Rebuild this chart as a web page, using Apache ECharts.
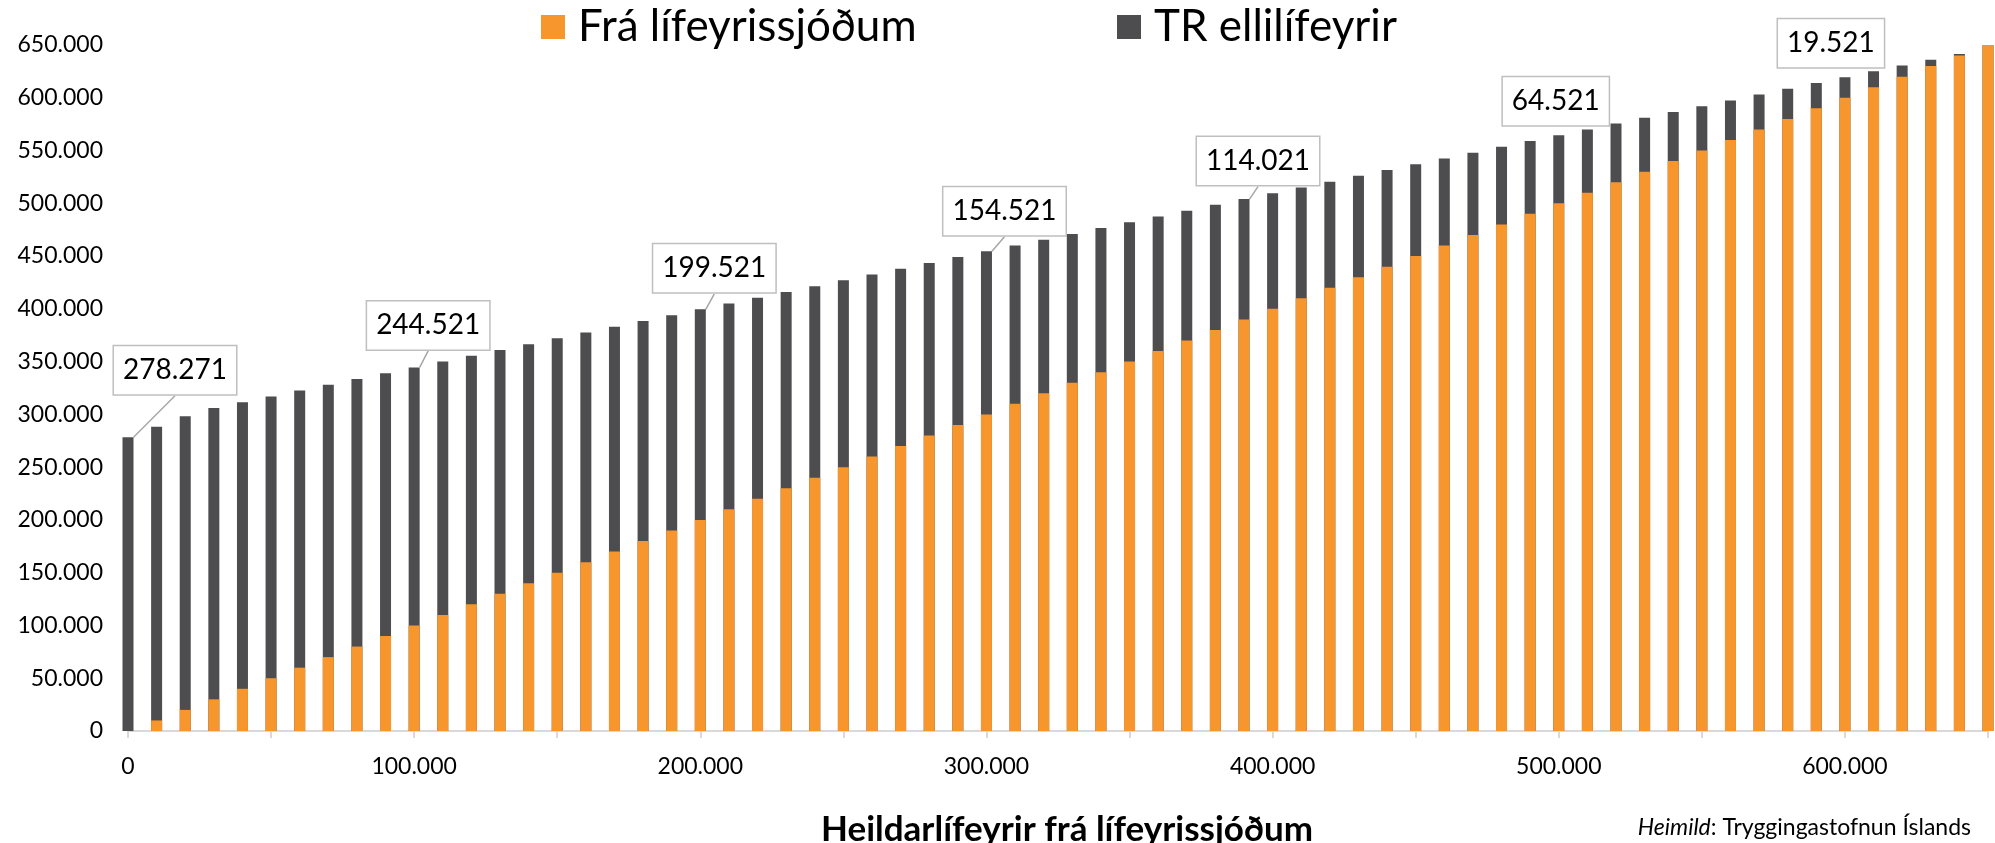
<!DOCTYPE html>
<html>
<head>
<meta charset="utf-8">
<script src="https://cdn.jsdelivr.net/npm/echarts@6/dist/echarts.min.js"></script>
<style>
    html, body { margin: 0; padding: 0; background: #fff; }
    #chartDiv { width: 1995px; height: 843px; }
</style>
</head>
<body>
<div id="chartDiv"></div>
<script>
// Heildarlífeyrir frá lífeyrissjóðum (x-ás)
var heildarLifeyrir = [
    0, 10000, 20000, 30000, 40000, 50000, 60000, 70000, 80000, 90000,
    100000, 110000, 120000, 130000, 140000, 150000, 160000, 170000, 180000, 190000,
    200000, 210000, 220000, 230000, 240000, 250000, 260000, 270000, 280000, 290000,
    300000, 310000, 320000, 330000, 340000, 350000, 360000, 370000, 380000, 390000,
    400000, 410000, 420000, 430000, 440000, 450000, 460000, 470000, 480000, 490000,
    500000, 510000, 520000, 530000, 540000, 550000, 560000, 570000, 580000, 590000,
    600000, 610000, 620000, 630000, 640000, 650000
];
// Frá lífeyrissjóðum
var fraLifeyrissjodum = [
    0, 10000, 20000, 30000, 40000, 50000, 60000, 70000, 80000, 90000,
    100000, 110000, 120000, 130000, 140000, 150000, 160000, 170000, 180000, 190000,
    200000, 210000, 220000, 230000, 240000, 250000, 260000, 270000, 280000, 290000,
    300000, 310000, 320000, 330000, 340000, 350000, 360000, 370000, 380000, 390000,
    400000, 410000, 420000, 430000, 440000, 450000, 460000, 470000, 480000, 490000,
    500000, 510000, 520000, 530000, 540000, 550000, 560000, 570000, 580000, 590000,
    600000, 610000, 620000, 630000, 640000, 650000
];
// TR ellilífeyrir
var trEllilifeyrir = [
    278271, 278271, 278271, 276021, 271521, 267021, 262521, 258021, 253521, 249021,
    244521, 240021, 235521, 231021, 226521, 222021, 217521, 213021, 208521, 204021,
    199521, 195021, 190521, 186021, 181521, 177021, 172521, 168021, 163521, 159021,
    154521, 150021, 145521, 141021, 136521, 132021, 127521, 123021, 118521, 114021,
    109521, 105021, 100521, 96021, 91521, 87021, 82521, 78021, 73521, 69021,
    64521, 60021, 55521, 51021, 46521, 42021, 37521, 33021, 28521, 24021,
    19521, 15021, 10521, 6021, 1521, 0
];
// hvaða súlur fá gildismerki
var merktSulur = [0, 10, 20, 30, 39, 50, 60];
// merki sem sitja svo nálægt súlunni að engin leiðarlína sést
var anLinu = [50, 60];

// færsla merkja frá toppi súlu [dx, dy]
var labelShift = {
    0: [47, -43],
    10: [14, -18],
    20: [14, -17],
    30: [18, -16],
    39: [14, -14],
    50: [-3, -10],
    60: [-14, -10]
};

var FONT = 'Lato';

function fmt(v) {
    return String(v).replace(/\B(?=(\d{3})+(?!\d))/g, '.');
}

// stafla handvirkt: dökka súlan nær upp í samtölu, appelsínugula liggur ofan á
var orangeData = [];
var trData = [];
for (var i = 0; i < heildarLifeyrir.length; i++) {
    var samtals = fraLifeyrissjodum[i] + trEllilifeyrir[i];
    orangeData.push([heildarLifeyrir[i], fraLifeyrissjodum[i]]);
    if (merktSulur.indexOf(i) >= 0) {
        trData.push({
            value: [heildarLifeyrir[i], samtals, trEllilifeyrir[i]],
            label: { show: true },
            labelLine: { show: anLinu.indexOf(i) < 0 }
        });
    } else {
        trData.push([heildarLifeyrir[i], samtals, trEllilifeyrir[i]]);
    }
}

var option = {
    animation: false,
    backgroundColor: '#fff',
    textStyle: { fontFamily: FONT },
    legend: [
        {
            data: ['Frá lífeyrissjóðum'],
            left: 536, top: 0,
            icon: 'rect', itemWidth: 24, itemHeight: 24,
            textStyle: { fontFamily: FONT, fontSize: 44, color: '#000', padding: [0, 0, 0, 8] }
        },
        {
            data: ['TR ellilífeyrir'],
            left: 1112, top: 0,
            icon: 'rect', itemWidth: 24, itemHeight: 24,
            textStyle: { fontFamily: FONT, fontSize: 44, color: '#000', padding: [0, 0, 0, 8] }
        }
    ],
    grid: {
        left: 128,
        right: 7,
        top: 45,
        bottom: 112,
        outerBoundsMode: 'none'
    },
    xAxis: {
        type: 'value',
        min: 0,
        max: 650000,
        interval: 50000,
        name: 'Heildarlífeyrir frá lífeyrissjóðum',
        nameLocation: 'middle',
        nameGap: 81,
        nameTextStyle: { fontFamily: FONT, fontSize: 35, fontWeight: 'bold', color: '#000', padding: [0, 0, 0, 18] },
        splitLine: { show: false },
        axisLine: { lineStyle: { color: '#d9d9d9', width: 2 } },
        axisTick: { length: 7, lineStyle: { color: '#d9d9d9', width: 2 } },
        axisLabel: {
            margin: 24,
            fontFamily: FONT,
            fontSize: 23,
            color: '#000',
            formatter: function (v) {
                return v % 100000 === 0 ? fmt(v) : '';
            }
        }
    },
    yAxis: {
        type: 'value',
        min: 0,
        max: 650000,
        interval: 50000,
        splitLine: { show: false },
        axisLine: { show: false },
        axisTick: { show: false },
        axisLabel: {
            margin: 25,
            fontFamily: FONT,
            fontSize: 23,
            color: '#000',
            formatter: fmt
        }
    },
    series: [
        {
            name: 'TR ellilífeyrir',
            type: 'bar',
            barWidth: 11,
            barGap: '-100%',
            encode: { x: 0, y: 1 },
            itemStyle: { color: '#4D4D4F' },
            label: {
                show: false,
                position: 'top',
                distance: 0,
                fontFamily: FONT,
                fontSize: 28,
                lineHeight: 28,
                color: '#000',
                backgroundColor: '#fff',
                borderColor: '#bfbfbf',
                borderWidth: 1.5,
                padding: [10, 9],
                formatter: function (p) { return fmt(p.value[2]); }
            },
            labelLine: {
                show: true,
                lineStyle: { color: '#a6a6a6', width: 1.5 }
            },
            labelLayout: function (params) {
                var s = labelShift[params.dataIndex];
                if (!s) return {};
                return { dx: s[0], dy: s[1] };
            },
            data: trData
        },
        {
            name: 'Frá lífeyrissjóðum',
            type: 'bar',
            barWidth: 11,
            barGap: '-100%',
            itemStyle: { color: '#F7962D' },
            data: orangeData
        }
    ],
    graphic: [
        {
            type: 'text',
            right: 24,
            bottom: 4,
            style: {
                text: '{i|Heimild}: Tryggingastofnun Íslands',
                fontFamily: FONT,
                fontSize: 23,
                fill: '#000',
                rich: {
                    i: { fontFamily: FONT, fontSize: 23, fontStyle: 'italic' }
                }
            }
        }
    ]
};

var myChart_1 = echarts.init(document.getElementById('chartDiv'));
myChart_1.setOption(option);
</script>
</body>
</html>
